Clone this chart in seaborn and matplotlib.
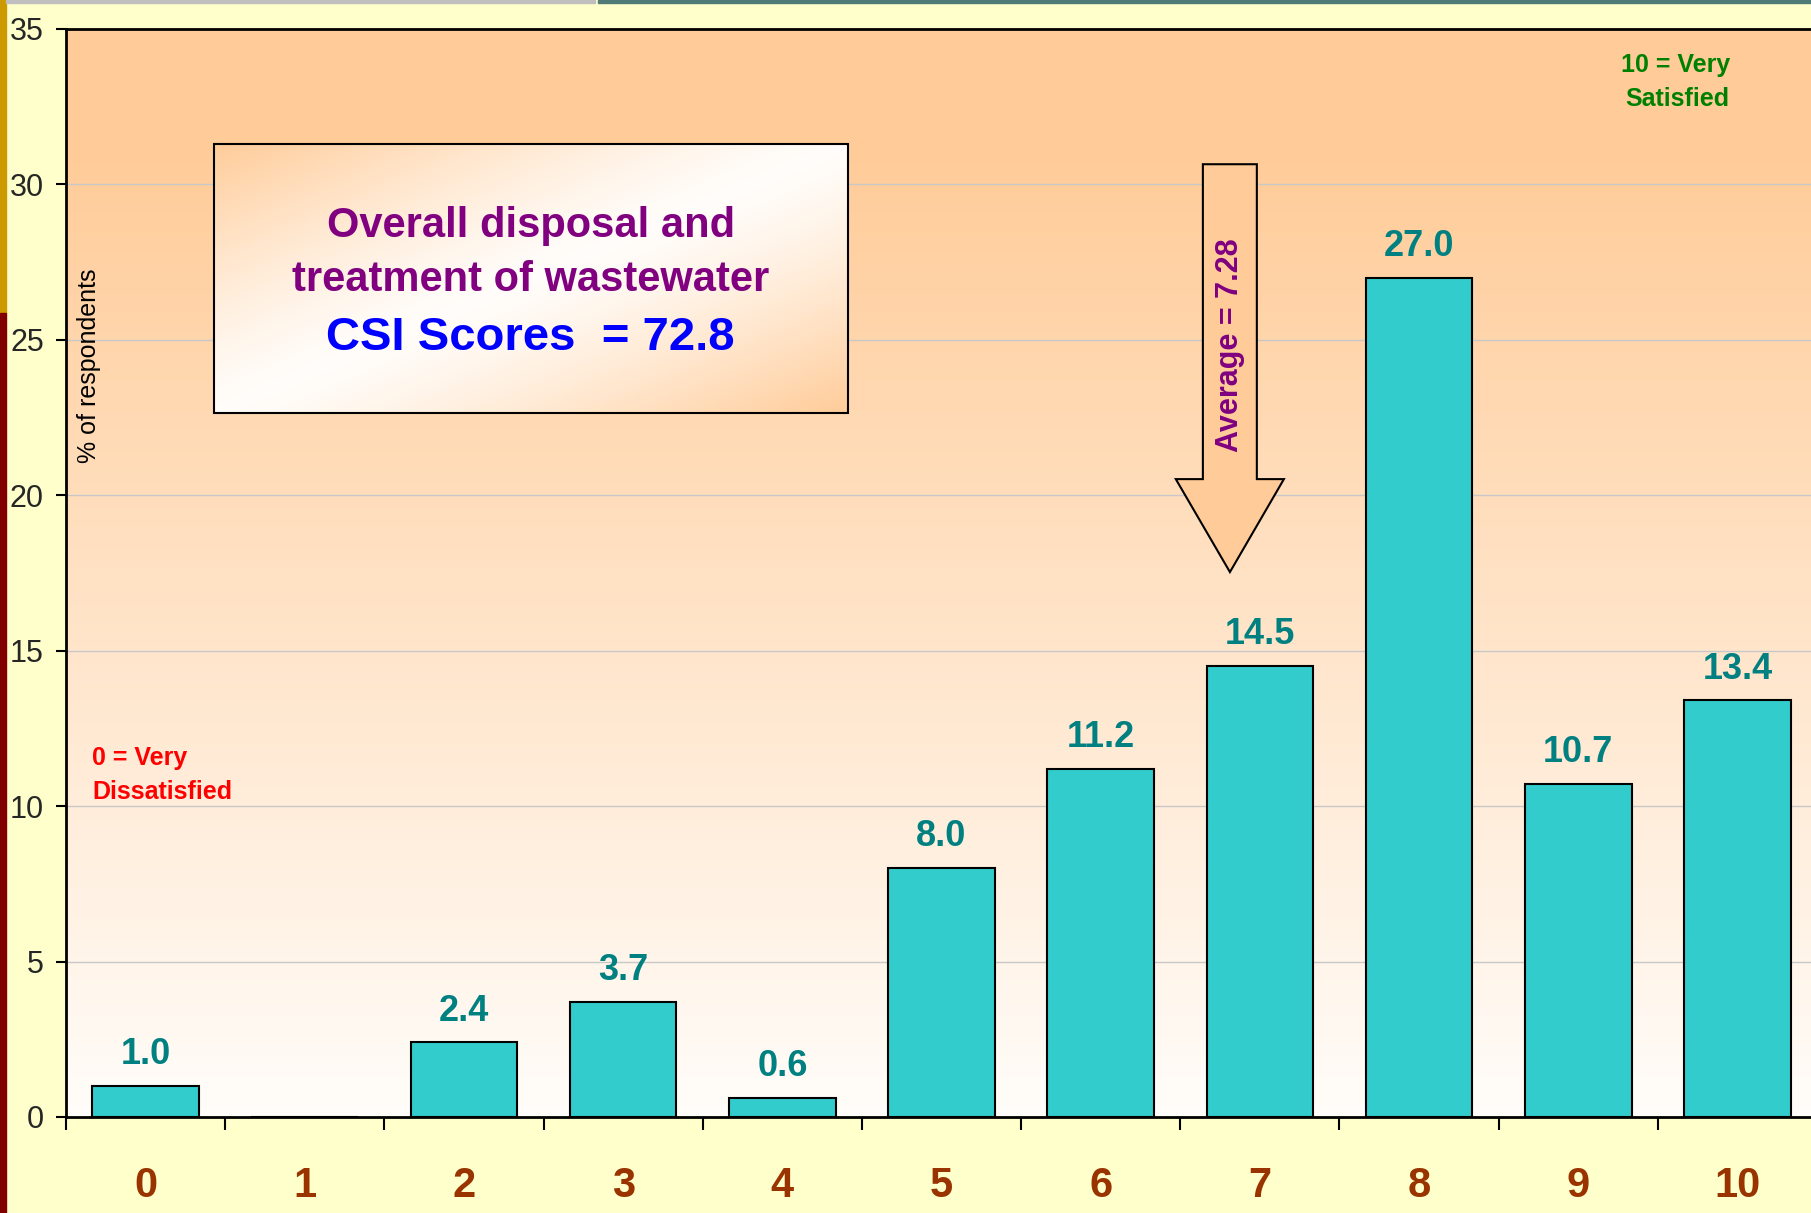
import numpy as np
import pandas as pd
import matplotlib
matplotlib.use('Agg')
import matplotlib.pyplot as plt
import seaborn as sns
from matplotlib.patches import Rectangle, Polygon

# data
scores = ['0', '1', '2', '3', '4', '5', '6', '7', '8', '9', '10']
pct = [1.0, 0.0, 2.4, 3.7, 0.6, 8.0, 11.2, 14.5, 27.0, 10.7, 13.4]
pct_labels = ['1.0', '', '2.4', '3.7', '0.6', '8.0', '11.2', '14.5', '27.0', '10.7', '13.4']
y_ticks = [0, 5, 10, 15, 20, 25, 30, 35]
average = 7.28
csi = 72.8

sns.set_style('white')
plt.rcParams['font.family'] = ['Liberation Sans', 'DejaVu Sans']

peach = np.array([255, 204, 153]) / 255
white = np.array([255, 253, 250]) / 255

fig = plt.figure(figsize=(18.11, 12.13), dpi=100, facecolor='#FFFFCC')
ax = fig.add_axes([66 / 1811, 96 / 1213, 1751 / 1811, 1088 / 1213])

# plot area gradient (white at the bottom, peach at the top)
g = np.clip(np.linspace(0, 35, 300) / 31, 0, 1).reshape(-1, 1, 1)
ax.imshow(white + g * (peach - white), extent=(-0.5, 10.5, 0, 35),
          origin='lower', aspect='auto', zorder=0)

df = pd.DataFrame({'score': scores, 'pct': pct})
sns.barplot(data=df, x='score', y='pct', order=scores, color='#33CCCC',
            saturation=1, edgecolor='black', linewidth=1.5, width=0.67,
            ax=ax, zorder=3)
ax.bar_label(ax.containers[0], labels=pct_labels, padding=10,
             color='#008080', fontsize=26, fontweight='bold')

# title box with diagonal gradient
bx0, bx1, by0, by1 = 0.43, 4.41, 22.64, 31.30
U, W = np.meshgrid(np.linspace(0, 1, 300), np.linspace(0, 1, 150))
t = np.abs(U + W - 1) ** 1.3
ax.imshow(white + t[..., None] * (peach - white), extent=(bx0, bx1, by0, by1),
          origin='upper', aspect='auto', zorder=4)
ax.add_patch(Rectangle((bx0, by0), bx1 - bx0, by1 - by0, fill=False,
                       ec='black', lw=1.5, zorder=5))
cx = (bx0 + bx1) / 2
ax.text(cx, 28.30, 'Overall disposal and', ha='center', va='baseline',
        fontsize=30, fontweight='bold', color='#800080', zorder=6)
ax.text(cx, 26.57, 'treatment of wastewater', ha='center', va='baseline',
        fontsize=30, fontweight='bold', color='#800080', zorder=6)
ax.text(cx, 24.67, f'CSI Scores  = {csi}', ha='center', va='baseline',
        fontsize=34, fontweight='bold', color='#0000FF', zorder=6)

# average arrow
arrow = Polygon([(6.642, 30.65), (6.981, 30.65), (6.981, 20.52), (7.151, 20.52),
                 (6.812, 17.53), (6.472, 20.52), (6.642, 20.52)],
                closed=True, fc='#FFCC99', ec='black', lw=1.5, zorder=4)
ax.add_patch(arrow)
ax.text(6.812, 24.83, f'Average = {average}', rotation=90, ha='center',
        va='center', fontsize=22, fontweight='bold', color='#800080', zorder=5)

# scale end notes
ax.text(-0.337, 11.32, '0 = Very', ha='left', va='baseline', fontsize=18,
        fontweight='bold', color='#FF0000', zorder=5)
ax.text(-0.337, 10.22, 'Dissatisfied', ha='left', va='baseline', fontsize=18,
        fontweight='bold', color='#FF0000', zorder=5)
ax.text(9.952, 33.61, '10 = Very', ha='right', va='baseline', fontsize=18,
        fontweight='bold', color='#008000', zorder=5)
ax.text(9.952, 32.52, 'Satisfied', ha='right', va='baseline', fontsize=18,
        fontweight='bold', color='#008000', zorder=5)

ax.text(-0.356, 24.17, '% of respondents', rotation=90, ha='center',
        va='center', fontsize=18, color='black', zorder=5)

# axes
ax.set_xlim(-0.5, 10.5)
ax.set_ylim(0, 35)
ax.set_xlabel('')
ax.set_ylabel('')
ax.set_yticks(y_ticks)
ax.set_xticks(range(len(scores)))
ax.set_xticklabels(scores, fontsize=30, fontweight='bold', color='#993300')
ax.set_xticks(np.arange(-0.5, len(scores), 1), minor=True)
ax.tick_params(axis='x', which='major', bottom=True, length=0, pad=35)
ax.tick_params(axis='x', which='minor', bottom=True, length=9, width=1.5,
               direction='out', color='black')
ax.tick_params(axis='y', left=True, length=7, width=1.5, labelsize=22, pad=9,
               color='black')
ax.set_axisbelow(True)
ax.yaxis.grid(True, color='#C8C8C8', lw=1)
ax.xaxis.grid(False)
for s in ['left', 'bottom', 'top']:
    ax.spines[s].set_color('black')
    ax.spines[s].set_linewidth(2)
ax.spines['right'].set_visible(False)

# slide decorations at the edges
fig.patches.append(Rectangle((0, 900 / 1213), 6 / 1811, 313 / 1213,
                             transform=fig.transFigure, color='#CC9900'))
fig.patches.append(Rectangle((0, 0), 6 / 1811, 900 / 1213,
                             transform=fig.transFigure, color='#800000'))
fig.patches.append(Rectangle((6 / 1811, 1210 / 1213), 589 / 1811, 3 / 1213,
                             transform=fig.transFigure, color='#BFBFBF'))
fig.patches.append(Rectangle((598 / 1811, 1210 / 1213), 1213 / 1811, 3 / 1213,
                             transform=fig.transFigure, color='#4F7A77'))

fig.savefig('out.png', dpi=100, facecolor=fig.get_facecolor())
